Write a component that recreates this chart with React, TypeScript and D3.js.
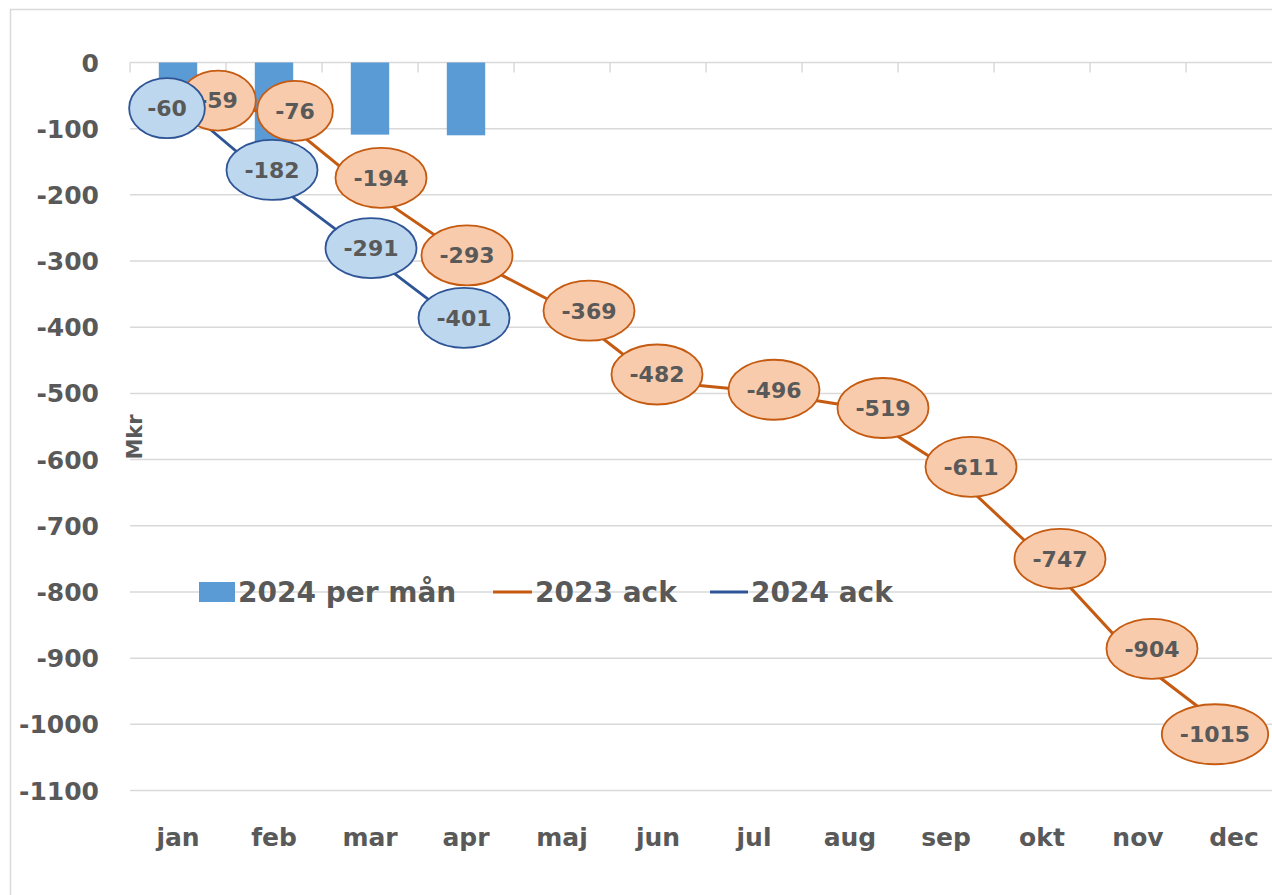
import * as d3 from "d3";

const months = ["jan", "feb", "mar", "apr", "maj", "jun", "jul", "aug", "sep", "okt", "nov", "dec"];
const perMonth2024 = [-60, -122, -109, -110];
const ack2023 = [-59, -76, -194, -293, -369, -482, -496, -519, -611, -747, -904, -1015];
const ack2024 = [-60, -182, -291, -401];
const yTicks = [0, -100, -200, -300, -400, -500, -600, -700, -800, -900, -1000, -1100];

// hand-dragged label nudges, as in the original (pixels from the point)
const nudge2023: [number, number][] = [
  [40, -1], [21, -2], [11, -13], [1, -1], [27, 4], [-1, -7],
  [20, -1], [33, 2], [25, 0], [18, 2], [14, -12], [-19, 0],
];
const nudge2024: [number, number][] = [[-11, 6], [-2, -13], [1, -7], [-2, -10]];

const W = 1272;
const H = 895;
const left = 130;
const right = 1282;
const top = 62.5;
const bottom = 790.5;

const grey = "#595959";
const gridC = "#d9d9d9";
const barC = "#5b9bd5";
const orange = "#c55a11";
const orangeFill = "#f8cbad";
const blue = "#2f5597";
const blueFill = "#bdd7ee";
const font = "'DejaVu Sans', sans-serif";

const labelSize = 22;
const textW = (s: string, size: number) =>
  s.split("").reduce((acc, ch) => acc + (ch === "-" ? 0.415 : 0.696), 0) * size;

export default function App() {
  const x = d3.scaleBand<string>().domain(months).range([left, right]).padding(0);
  const y = d3.scaleLinear().domain([0, -1100]).range([top, bottom]);
  const cx = (m: string) => (x(m) ?? 0) + x.bandwidth() / 2;
  const barW = x.bandwidth() * 0.4;

  const line = d3
    .line<number>()
    .x((_, i) => cx(months[i]))
    .y((d) => y(d));

  const labels = (
    data: number[],
    nudge: [number, number][],
    fill: string,
    stroke: string,
  ) =>
    data.map((v, i) => {
      const lx = cx(months[i]) + nudge[i][0];
      const ly = y(v) + nudge[i][1];
      const t = String(v);
      const rx = textW(t, labelSize) / 2 + 18;
      return (
        <g key={i}>
          <ellipse cx={lx} cy={ly} rx={rx} ry={30} fill={fill} stroke={stroke} strokeWidth={1.8} />
          <text
            x={lx}
            y={ly}
            dy="0.36em"
            textAnchor="middle"
            fontSize={labelSize}
            fontWeight="bold"
            fill={grey}
          >
            {t}
          </text>
        </g>
      );
    });

  return (
    <svg
      width={W}
      height={H}
      style={{ position: "absolute", left: 0, top: 0, background: "#fff" }}
      fontFamily={font}
    >
      <rect x={10.5} y={9.5} width={1400} height={1000} fill="#fff" stroke={gridC} strokeWidth={1.5} />

      {yTicks.map((t) => (
        <g key={t}>
          <line x1={left} x2={right} y1={y(t)} y2={y(t)} stroke={gridC} strokeWidth={1.5} />
          <text
            x={99}
            y={y(t)}
            dy="0.36em"
            textAnchor="end"
            fontSize={25}
            fontWeight="bold"
            fill={grey}
          >
            {t}
          </text>
        </g>
      ))}

      {months.map((m) => (
        <line key={m} x1={x(m)} x2={x(m)} y1={y(0)} y2={y(0) + 10} stroke={gridC} strokeWidth={1.5} />
      ))}
      <line x1={right} x2={right} y1={y(0)} y2={y(0) + 10} stroke={gridC} strokeWidth={1.5} />

      {months.map((m) => (
        <text key={m} x={cx(m)} y={846} textAnchor="middle" fontSize={25} fontWeight="bold" fill={grey}>
          {m}
        </text>
      ))}

      <text
        transform="translate(142,437) rotate(-90)"
        textAnchor="middle"
        fontSize={21}
        fontWeight="bold"
        fill={grey}
      >
        Mkr
      </text>

      {perMonth2024.map((v, i) => (
        <rect
          key={i}
          x={cx(months[i]) - barW / 2}
          y={y(0)}
          width={barW}
          height={y(v) - y(0)}
          fill={barC}
        />
      ))}

      <path d={line(ack2023) ?? ""} fill="none" stroke={orange} strokeWidth={3} />
      <path d={line(ack2024) ?? ""} fill="none" stroke={blue} strokeWidth={2.8} />

      {labels(ack2023, nudge2023, orangeFill, orange)}
      {labels(ack2024, nudge2024, blueFill, blue)}

      <g fontSize={28} fontWeight="bold" fill={grey}>
        <rect x={199} y={582} width={36} height={20} fill={barC} />
        <text x={238} y={602}>2024 per mån</text>
        <line x1={493} x2={532} y1={592} y2={592} stroke={orange} strokeWidth={3} />
        <text x={535} y={602}>2023 ack</text>
        <line x1={710} x2={748} y1={592} y2={592} stroke={blue} strokeWidth={3} />
        <text x={751} y={602}>2024 ack</text>
      </g>
    </svg>
  );
}
